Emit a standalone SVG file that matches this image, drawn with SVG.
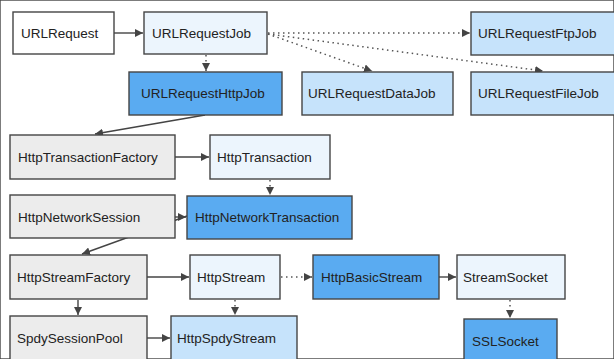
<svg xmlns="http://www.w3.org/2000/svg" width="614" height="359" viewBox="0 0 614 359">
<style>
rect{stroke:#454545;stroke-width:1.4}
.w{fill:#ffffff}.p{fill:#ecf5fd}.m{fill:#5aabf1}.l{fill:#c6e3fb}.g{fill:#ececec}
text{font-family:"Liberation Sans",Arial,sans-serif;font-size:13.5px;fill:#222}
.s{stroke:#444;stroke-width:1.4;fill:none}
.d{stroke:#555;stroke-width:1.5;fill:none;stroke-dasharray:1.5 3.5}
</style>
<defs>
<marker id="a" viewBox="0 0 10 10" refX="10" refY="5" markerWidth="8" markerHeight="8" markerUnits="userSpaceOnUse" orient="auto">
<path d="M0,0 L10,5 L0,10 z" fill="#444"/>
</marker>
</defs>
<rect width="614" height="359" fill="#fff" stroke="none"/>
<g id="connectors">
<path class="s" d="M114,33 H143" marker-end="url(#a)"/>
<path class="d" d="M206,55 V71" marker-end="url(#a)"/>
<path class="d" d="M268,33 H470" marker-end="url(#a)"/>
<path class="d" d="M268,34 L372,71" marker-end="url(#a)"/>
<path class="d" d="M268,34 L543,71" marker-end="url(#a)"/>
<path class="s" d="M205,115 L95,134" marker-end="url(#a)"/>
<path class="s" d="M175,157 H209" marker-end="url(#a)"/>
<path class="d" d="M270,180 V195" marker-end="url(#a)"/>
<path class="s" d="M175,217 H186" marker-end="url(#a)"/>
<path class="s" d="M187,216 L82,254" marker-end="url(#a)"/>
<path class="s" d="M147,277 H189" marker-end="url(#a)"/>
<path class="d" d="M281,277 H312" marker-end="url(#a)"/>
<path class="d" d="M235,300 V315" marker-end="url(#a)"/>
<path class="s" d="M439,277 H456" marker-end="url(#a)"/>
<path class="d" d="M510,300 V318" marker-end="url(#a)"/>
<path class="s" d="M78,300 V315" marker-end="url(#a)"/>
<path class="s" d="M147,338 H170" marker-end="url(#a)"/>
</g>
<g id="URLRequest"><rect class="w" x="13" y="12" width="101" height="42"/><text x="21" y="38">URLRequest</text></g>
<g id="URLRequestJob"><rect class="p" x="144" y="12" width="123" height="42"/><text x="152" y="38">URLRequestJob</text></g>
<g id="URLRequestFtpJob"><rect class="l" x="471" y="12" width="150" height="43"/><text x="478" y="38">URLRequestFtpJob</text></g>
<g id="URLRequestHttpJob"><rect class="m" x="129" y="72" width="153" height="43"/><text x="141" y="98">URLRequestHttpJob</text></g>
<g id="URLRequestDataJob"><rect class="l" x="302" y="72" width="151" height="43"/><text x="308" y="98">URLRequestDataJob</text></g>
<g id="URLRequestFileJob"><rect class="l" x="471" y="72" width="150" height="43"/><text x="478" y="98">URLRequestFileJob</text></g>
<g id="HttpTransactionFactory"><rect class="g" x="10" y="135" width="165" height="44"/><text x="18" y="162">HttpTransactionFactory</text></g>
<g id="HttpTransaction"><rect class="p" x="210" y="135" width="120" height="44"/><text x="217" y="162">HttpTransaction</text></g>
<g id="HttpNetworkSession"><rect class="g" x="10" y="195" width="165" height="43"/><text x="18" y="222">HttpNetworkSession</text></g>
<g id="HttpNetworkTransaction"><rect class="m" x="187" y="196" width="165" height="43"/><text x="195" y="222">HttpNetworkTransaction</text></g>
<g id="HttpStreamFactory"><rect class="g" x="10" y="255" width="137" height="44"/><text x="17" y="282">HttpStreamFactory</text></g>
<g id="HttpStream"><rect class="p" x="190" y="255" width="90" height="44"/><text x="197" y="282">HttpStream</text></g>
<g id="HttpBasicStream"><rect class="m" x="313" y="255" width="126" height="44"/><text x="321" y="282">HttpBasicStream</text></g>
<g id="StreamSocket"><rect class="p" x="457" y="255" width="108" height="44"/><text x="463" y="282">StreamSocket</text></g>
<g id="SpdySessionPool"><rect class="g" x="10" y="316" width="137" height="50"/><text x="17" y="343">SpdySessionPool</text></g>
<g id="HttpSpdyStream"><rect class="l" x="171" y="316" width="126" height="50"/><text x="177" y="343">HttpSpdyStream</text></g>
<g id="SSLSocket"><rect class="m" x="464" y="319" width="93" height="50"/><text x="472" y="346">SSLSocket</text></g>
</svg>
